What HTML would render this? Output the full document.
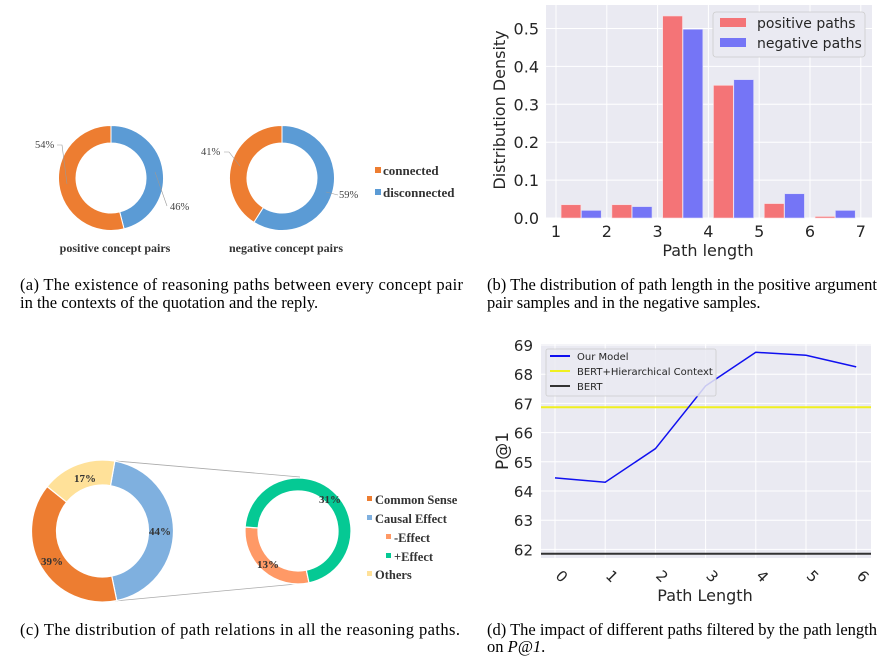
<!DOCTYPE html>
<html><head><meta charset="utf-8"><style>
body{margin:0;background:#fff;width:892px;height:670px;overflow:hidden}
svg{display:block}
.cap{font-family:"Liberation Serif",serif;font-size:16.5px;fill:#000}
.tk{font-family:"DejaVu Sans",sans-serif;fill:#262626}
.sb{font-family:"Liberation Serif",serif;font-weight:bold;fill:#333}
</style></head><body>
<svg id="fig" width="892" height="670" xmlns="http://www.w3.org/2000/svg">
<g id="pa"></g>
<g id="pb"></g>
<g id="pc"></g>
<g id="pd"></g>
<text class="cap" x="20" y="290" textLength="443" lengthAdjust="spacing">(a)  The existence of reasoning paths between every concept pair</text>
<text class="cap" x="20" y="308">in the contexts of the quotation and the reply.</text>
<text class="cap" x="487" y="290" textLength="390" lengthAdjust="spacing">(b)  The distribution of path length in the positive argument</text>
<text class="cap" x="487" y="308">pair samples and in the negative samples.</text>
<text class="cap" x="20" y="635" textLength="440" lengthAdjust="spacing">(c)  The distribution of path relations in all the reasoning paths.</text>
<text class="cap" x="487" y="635" textLength="390" lengthAdjust="spacing">(d)  The impact of different paths filtered by the path length</text>
<text class="cap" x="487" y="652">on <tspan font-style="italic">P@1</tspan>.</text>
</svg>
<script>
// ---- data ----
const donutALabels = ['connected','disconnected'];
const donutAPositive = [54, 46];
const donutANegative = [41, 59];
const histBins = [1,2,3,4,5,6];
const histPositive = [0.035,0.035,0.533,0.35,0.038,0.004];
const histNegative = [0.02,0.03,0.498,0.365,0.064,0.02];
const histYTicks = [0.0,0.1,0.2,0.3,0.4,0.5];
const histXTicks = [1,2,3,4,5,6,7];
const relLabels = ['Causal Effect','Common Sense','Others'];
const relValues = [44,39,17];
const effectLabels = ['-Effect','+Effect'];
const effectValues = [13,31];
const lineX = [0,1,2,3,4,5,6];
const lineOurs = [64.45,64.3,65.45,67.6,68.75,68.65,68.25];
const lineBertHier = 66.87;
const lineBert = 61.85;
const lineYTicks = [62,63,64,65,66,67,68,69];

const NS='http://www.w3.org/2000/svg';
function mk(parent,tag,attrs,txt){const e=document.createElementNS(NS,tag);for(const k in attrs)e.setAttribute(k,attrs[k]);if(txt!==undefined)e.textContent=txt;parent.appendChild(e);return e;}
function arc(cx,cy,r0,r1,a0,a1){const p=(r,a)=>[cx+r*Math.sin(a*Math.PI/180),cy-r*Math.cos(a*Math.PI/180)];const l=(a1-a0)>180?1:0;const A=p(r1,a0),B=p(r1,a1),C=p(r0,a1),D=p(r0,a0);return `M${A}A${r1},${r1} 0 ${l} 1 ${B}L${C}A${r0},${r0} 0 ${l} 0 ${D}Z`;}

// ---- panel a ----
const pa=document.getElementById('pa');
function donutA(cx,vals,title,names){
  const tot=vals[0]+vals[1];
  const blueDeg=vals[1]/tot*360;
  let e=mk(pa,'path',{d:arc(cx,178,35,52.5,0,blueDeg),fill:'#5B9BD5',stroke:'#fff','stroke-width':1});
  
  e=mk(pa,'path',{d:arc(cx,178,35,52.5,blueDeg,360),fill:'#ED7D31',stroke:'#fff','stroke-width':1});
  
  e=mk(pa,'text',{x:cx+4,y:252,'text-anchor':'middle',class:'sb','font-size':12},title);
  
}
donutA(111,donutAPositive,'positive concept pairs','positive-donut');
donutA(282,donutANegative,'negative concept pairs','negative-donut');
[[35,148,donutAPositive[0]],[170,210,donutAPositive[1]],[201,155,donutANegative[0]],[339,198,donutANegative[1]]].forEach(([x,y,v])=>{
  const t=mk(pa,'text',{x:x,y:y,'font-family':'Liberation Serif,serif','font-size':10.5,fill:'#444'},v+'%');
  });
mk(pa,'polyline',{points:'57,145 62,145 67,184',fill:'none',stroke:'#999','stroke-width':0.6});
mk(pa,'polyline',{points:'155,172 167,206',fill:'none',stroke:'#999','stroke-width':0.6});
mk(pa,'polyline',{points:'224,152 229,152 240,166',fill:'none',stroke:'#999','stroke-width':0.6});
mk(pa,'polyline',{points:'326,192 338,195',fill:'none',stroke:'#999','stroke-width':0.6});
donutALabels.forEach((n,i)=>{
  const y=175+i*22;
  const r=mk(pa,'rect',{x:375,y:y-8,width:6,height:6,fill:i?'#5B9BD5':'#ED7D31'});
  
  const t=mk(pa,'text',{x:383,y:y,class:'sb','font-size':13,fill:'#222'},n);
  
});

// ---- panel b ----
const pb=document.getElementById('pb');
const bx=v=>556+(v-1)*50.8, by=v=>218-v*379;
mk(pb,'rect',{x:546,y:5,width:326,height:213,fill:'#EAEAF2'});
histYTicks.forEach(v=>{mk(pb,'line',{x1:546,x2:872,y1:by(v),y2:by(v),stroke:'#fff','stroke-width':1});
  const t=mk(pb,'text',{x:539,y:by(v)+6,'text-anchor':'end',class:'tk','font-size':16},v.toFixed(1));
  });
histXTicks.forEach(v=>{mk(pb,'line',{x1:bx(v),x2:bx(v),y1:5,y2:218,stroke:'#fff','stroke-width':1});
  const t=mk(pb,'text',{x:bx(v),y:237,'text-anchor':'middle',class:'tk','font-size':16},v);
  });
histBins.forEach((b,i)=>{
  let r=mk(pb,'rect',{x:bx(b+0.1),y:by(histPositive[i]),width:0.39*50.8,height:218-by(histPositive[i]),fill:'#F47477',stroke:'#fbdde0','stroke-width':0.6});
  
  r=mk(pb,'rect',{x:bx(b+0.5),y:by(histNegative[i]),width:0.39*50.8,height:218-by(histNegative[i]),fill:'#7575F6',stroke:'#dcdcfb','stroke-width':0.6});
  
});
let t=mk(pb,'text',{x:0,y:0,transform:'translate(505,110) rotate(-90)','text-anchor':'middle',class:'tk','font-size':16},'Distribution Density');

t=mk(pb,'text',{x:708,y:256,'text-anchor':'middle',class:'tk','font-size':16},'Path length');

let lg=mk(pb,'rect',{x:713,y:12,width:152,height:45,rx:3,fill:'#EAEAF2',stroke:'#ccc','stroke-width':0.8});

[['positive paths','#F47477'],['negative paths','#7575F6']].forEach(([n,c],i)=>{
  mk(pb,'rect',{x:720,y:18+i*20,width:26,height:9,fill:c});
  const e=mk(pb,'text',{x:757,y:28+i*20,class:'tk','font-size':14},n);
  
});

// ---- panel c ----
const pc=document.getElementById('pc');
mk(pc,'line',{x1:116,y1:461,x2:300,y2:477,stroke:'#aaa','stroke-width':0.8});
mk(pc,'line',{x1:115,y1:601,x2:307,y2:583,stroke:'#aaa','stroke-width':0.8});
const relColors=['#7FB0DF','#ED7D31','#FFE199'];
let a=10;const tot=relValues.reduce((s,v)=>s+v,0);
relValues.forEach((v,i)=>{const d=v/tot*360;
  const e=mk(pc,'path',{d:arc(102.5,531,46,71,a,a+d),fill:relColors[i],stroke:'#fff','stroke-width':1.2});
  
  a+=d;});
const etot=effectValues[0]+effectValues[1];
let s=168;
[[effectValues[0],'#FF9966','minus-effect'],[effectValues[1],'#05C994','plus-effect']].forEach(([v,c,n])=>{const d=v/etot*360;
  const e=mk(pc,'path',{d:arc(298,531,40,53,s,s+d),fill:c,stroke:'#fff','stroke-width':1.2});
  s+=d;});
[[85,482,relValues[2]],[160,535,relValues[0]],[52,565,relValues[1]],[330,503,effectValues[1]],[268,568,effectValues[0]]].forEach(([x,y,v])=>{
  const e=mk(pc,'text',{x:x,y:y,'text-anchor':'middle',class:'sb','font-size':11,fill:'#222'},v+'%');
  });
[['Common Sense','#ED7D31',367,504],['Causal Effect','#7FB0DF',367,523],['-Effect','#FF9966',386,542],['+Effect','#05C994',386,561],['Others','#FFE199',367,579]].forEach(([n,c,x,y])=>{
  mk(pc,'rect',{x:x,y:y-8,width:5,height:5,fill:c});
  const e=mk(pc,'text',{x:x+8,y:y,class:'sb','font-size':12.5,fill:'#444'},n);
  });

// ---- panel d ----
const pd=document.getElementById('pd');
const dx=v=>555+v*50.2, dy=v=>345+(69-v)*29.2;
mk(pd,'rect',{x:541,y:344,width:330,height:214,fill:'#EAEAF2'});
lineYTicks.forEach(v=>{mk(pd,'line',{x1:541,x2:871,y1:dy(v),y2:dy(v),stroke:'#fff','stroke-width':1});
  const e=mk(pd,'text',{x:533,y:dy(v)+6,'text-anchor':'end',class:'tk','font-size':15},v);
  });
lineX.forEach(v=>{mk(pd,'line',{x1:dx(v),x2:dx(v),y1:344,y2:558,stroke:'#fff','stroke-width':1});
  const e=mk(pd,'text',{x:0,y:0,transform:`translate(${dx(v)+3},${580}) rotate(45)`,'text-anchor':'middle',class:'tk','font-size':15},v);
  });
let e=mk(pd,'line',{x1:541,x2:871,y1:dy(lineBertHier),y2:dy(lineBertHier),stroke:'#F0F020','stroke-width':2});

e=mk(pd,'line',{x1:541,x2:871,y1:dy(lineBert),y2:dy(lineBert),stroke:'#333','stroke-width':2});

e=mk(pd,'polyline',{points:lineX.map((x,i)=>dx(x)+','+dy(lineOurs[i])).join(' '),fill:'none',stroke:'#1010F0','stroke-width':1.5});

e=mk(pd,'rect',{x:546,y:349,width:170,height:47,rx:2,fill:'#EAEAF2','fill-opacity':0.85,stroke:'#ccc','stroke-width':0.8});

[['Our Model','#1010F0'],['BERT+Hierarchical Context','#F0F020'],['BERT','#333']].forEach(([n,c],i)=>{
  const y=356+i*15;mk(pd,'line',{x1:550,x2:570,y1:y,y2:y,stroke:c,'stroke-width':2});
  const t=mk(pd,'text',{x:577,y:y+4,class:'tk','font-size':10},n);
  });
e=mk(pd,'text',{x:0,y:0,transform:'translate(508,451) rotate(-90)','text-anchor':'middle',class:'tk','font-size':17},'P@1');

e=mk(pd,'text',{x:705,y:601,'text-anchor':'middle',class:'tk','font-size':16},'Path Length');

</script>
</body></html>
